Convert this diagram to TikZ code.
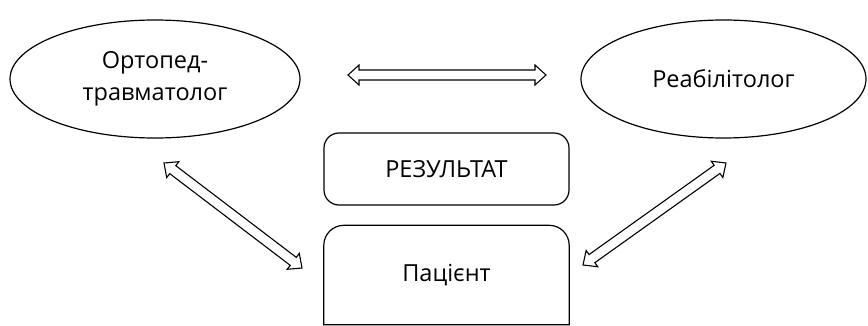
\documentclass[tikz,border=0pt]{standalone}
\usepackage{fontspec}
\setmainfont{Open Sans}
\usetikzlibrary{shapes.geometric,calc}

\tikzset{
  outline/.style={draw=black, line width=1.2pt},
  label font/.style={font=\fontsize{23.5}{32}\selectfont},
  role/.style={outline, ellipse, minimum width=290pt, minimum height=118pt,
    align=center, label font, inner sep=0pt},
  resultbox/.style={outline, rectangle, rounded corners=15pt,
    minimum width=245pt, minimum height=72pt, label font},
  patientbox/.style={rectangle, minimum width=245pt, minimum height=99pt,
    label font},
  dblarrow/.style={draw=black, line width=1.1pt, fill=white, line join=miter}
}

% Hollow double-headed arrow between two named points
\newcommand\hollowarrow[2]{%
  \path[dblarrow]
    (#1)
    -- ($(#1)!11pt!(#2)!10pt!90:(#2)$)
    -- ($(#1)!11pt!(#2)!5pt!90:(#2)$)
    -- ($(#2)!11pt!(#1)!5pt!-90:(#1)$)
    -- ($(#2)!11pt!(#1)!10pt!-90:(#1)$)
    -- (#2)
    -- ($(#2)!11pt!(#1)!10pt!90:(#1)$)
    -- ($(#2)!11pt!(#1)!5pt!90:(#1)$)
    -- ($(#1)!11pt!(#2)!5pt!-90:(#2)$)
    -- ($(#1)!11pt!(#2)!10pt!-90:(#2)$)
    -- cycle;%
}

\begin{document}
\begin{tikzpicture}[x=1pt, y=-1pt]
  \useasboundingbox (0,0) rectangle (868,326);

  % specialists
  \node[role] (ortho) at (155,79) {Ортопед-\\травматолог};
  \node[role, minimum width=285pt] (rehab) at (723.5,79) {Реабілітолог};

  % outcome and patient
  \node[resultbox] (result) at (446.5,169) {РЕЗУЛЬТАТ};
  \node[patientbox] (patient) at (446.5,275) {Пацієнт};
  \draw[line width=1.2pt] (patient.south west)
    [rounded corners=20pt] -- (patient.north west) -- (patient.north east)
    [sharp corners] -- (patient.south east) -- cycle;

  % arrow end points
  \coordinate (top-l) at (348,75);
  \coordinate (top-r) at (546,75);
  \coordinate (ortho-end) at (164,163);
  \coordinate (patient-l) at (302,268);
  \coordinate (rehab-end) at (726,163);
  \coordinate (patient-r) at (583,265);

  \hollowarrow{top-l}{top-r}
  \hollowarrow{ortho-end}{patient-l}
  \hollowarrow{rehab-end}{patient-r}
\end{tikzpicture}
\end{document}
